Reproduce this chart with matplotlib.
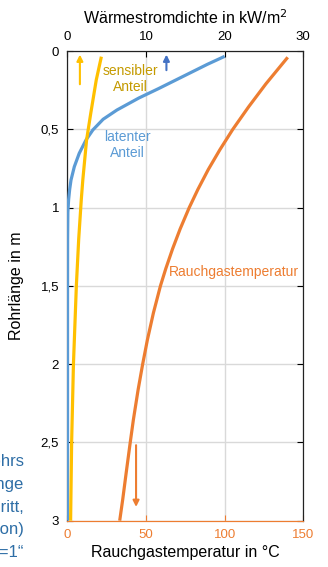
import matplotlib.pyplot as plt

plt.rcParams['font.family'] = ['Liberation Sans', 'DejaVu Sans']

# Rauchgastemperatur (bottom axis, °C) over Rohrlänge (m)
temp_len = [0.04, 0.21, 0.357, 0.5, 0.63, 0.757, 0.884, 1.0, 1.137, 1.264, 1.39, 1.5,
            1.674, 1.845, 2.0, 2.164, 2.355, 2.5, 2.696, 2.866, 3.0]
temp_val = [140.1, 126.2, 115.2, 105.2, 97.0, 89.6, 83.0, 77.5, 71.7, 66.9, 62.6, 59.2,
            54.7, 50.9, 47.9, 45.0, 42.0, 40.0, 37.4, 35.2, 33.3]

# latenter Anteil (top axis, kW/m2)
lat_len = [0.034, 0.085, 0.14, 0.19, 0.24, 0.30, 0.377, 0.436, 0.504, 0.568, 0.653,
           0.739, 0.824, 0.884, 0.947, 1.03, 1.2, 1.6, 2.2, 3.0]
lat_val = [20.0, 17.8, 15.6, 13.6, 11.6, 9.1, 6.3, 4.55, 3.25, 2.38, 1.52,
           0.89, 0.47, 0.3, 0.17, 0.07, 0.04, 0.03, 0.03, 0.03]

# sensibler Anteil (top axis, kW/m2)
sens_len = [0.036, 0.185, 0.398, 0.568, 0.824, 0.947, 1.2, 1.5, 2.0, 2.5, 3.0]
sens_val = [4.33, 3.68, 2.98, 2.45, 1.97, 1.78, 1.45, 1.15, 0.78, 0.55, 0.42]

y_ticks = [0, 0.5, 1, 1.5, 2, 2.5, 3]
y_labels = ['0', '0,5', '1', '1,5', '2', '2,5', '3']

orange = '#ED7D31'
blue = '#5B9BD5'
yellow = '#FFC000'

fig = plt.figure(figsize=(3.28, 5.67), dpi=100)
ax = fig.add_axes([0.2052, 0.0817, 0.7195, 0.8283])
ax2 = ax.twiny()

ax.plot(temp_val, temp_len, color=orange, lw=2.3, zorder=3, solid_capstyle='butt')
ax2.plot(lat_val, lat_len, color=blue, lw=2.3, zorder=3, solid_capstyle='butt')
ax2.plot(sens_val, sens_len, color=yellow, lw=2.3, zorder=3, solid_capstyle='butt')

ax.set_xlim(0, 150)
ax2.set_xlim(0, 30)
ax.set_ylim(3, 0)
ax.set_yticks(y_ticks)
ax.set_yticklabels(y_labels)
ax.set_xticks([0, 50, 100, 150])
ax2.set_xticks([0, 10, 20, 30])

ax.grid(True, color='#D9D9D9', lw=1)
ax.set_axisbelow(True)

ax.tick_params(axis='x', colors=orange, labelsize=9.5, direction='in', length=4, pad=6)
ax.tick_params(axis='y', labelsize=9.5, direction='in', length=4, right=True, pad=6)
ax2.tick_params(axis='x', labelsize=9.5, direction='in', length=4, pad=6)

for a in (ax, ax2):
    for s in ('left', 'right', 'top'):
        a.spines[s].set_color('#222222')
    a.spines['bottom'].set_color(orange)

ax.set_xlabel('Rauchgastemperatur in °C', fontsize=11.5, labelpad=3)
ax2.set_xlabel('Wärmestromdichte in kW/m$^2$', fontsize=11.5, labelpad=5)
ax.set_ylabel('Rohrlänge in m', fontsize=11.5, labelpad=12)

# arrows
ax2.annotate('', xy=(1.6, 0.005), xytext=(1.6, 0.23),
             arrowprops=dict(arrowstyle='-|>', color=yellow, lw=1.5, mutation_scale=9))
ax2.annotate('', xy=(12.6, 0.005), xytext=(12.6, 0.14),
             arrowprops=dict(arrowstyle='-|>', color='#4472C4', lw=1.5, mutation_scale=9))
ax.annotate('', xy=(43.7, 2.93), xytext=(43.7, 2.5),
            arrowprops=dict(arrowstyle='-|>', color=orange, lw=1.5, mutation_scale=9))

ax2.text(8.0, 0.18, 'sensibler\nAnteil', color='#C49A00', fontsize=10,
         ha='center', va='center', linespacing=1.15)
ax2.text(7.6, 0.60, 'latenter\nAnteil', color=blue, fontsize=10,
         ha='center', va='center', linespacing=1.15)
ax.text(106, 1.41, 'Rauchgastemperatur', color=orange, fontsize=10,
        ha='center', va='center')

fig.text(24 / 328, 1 - 507 / 567,
         'des Rohrs\nRohrlänge\nSchritt,\nKondensation)\n„x=1“',
         color='#2E6EA6', fontsize=12, ha='right', va='center', linespacing=1.66)

fig.savefig('out.png', dpi=100)
